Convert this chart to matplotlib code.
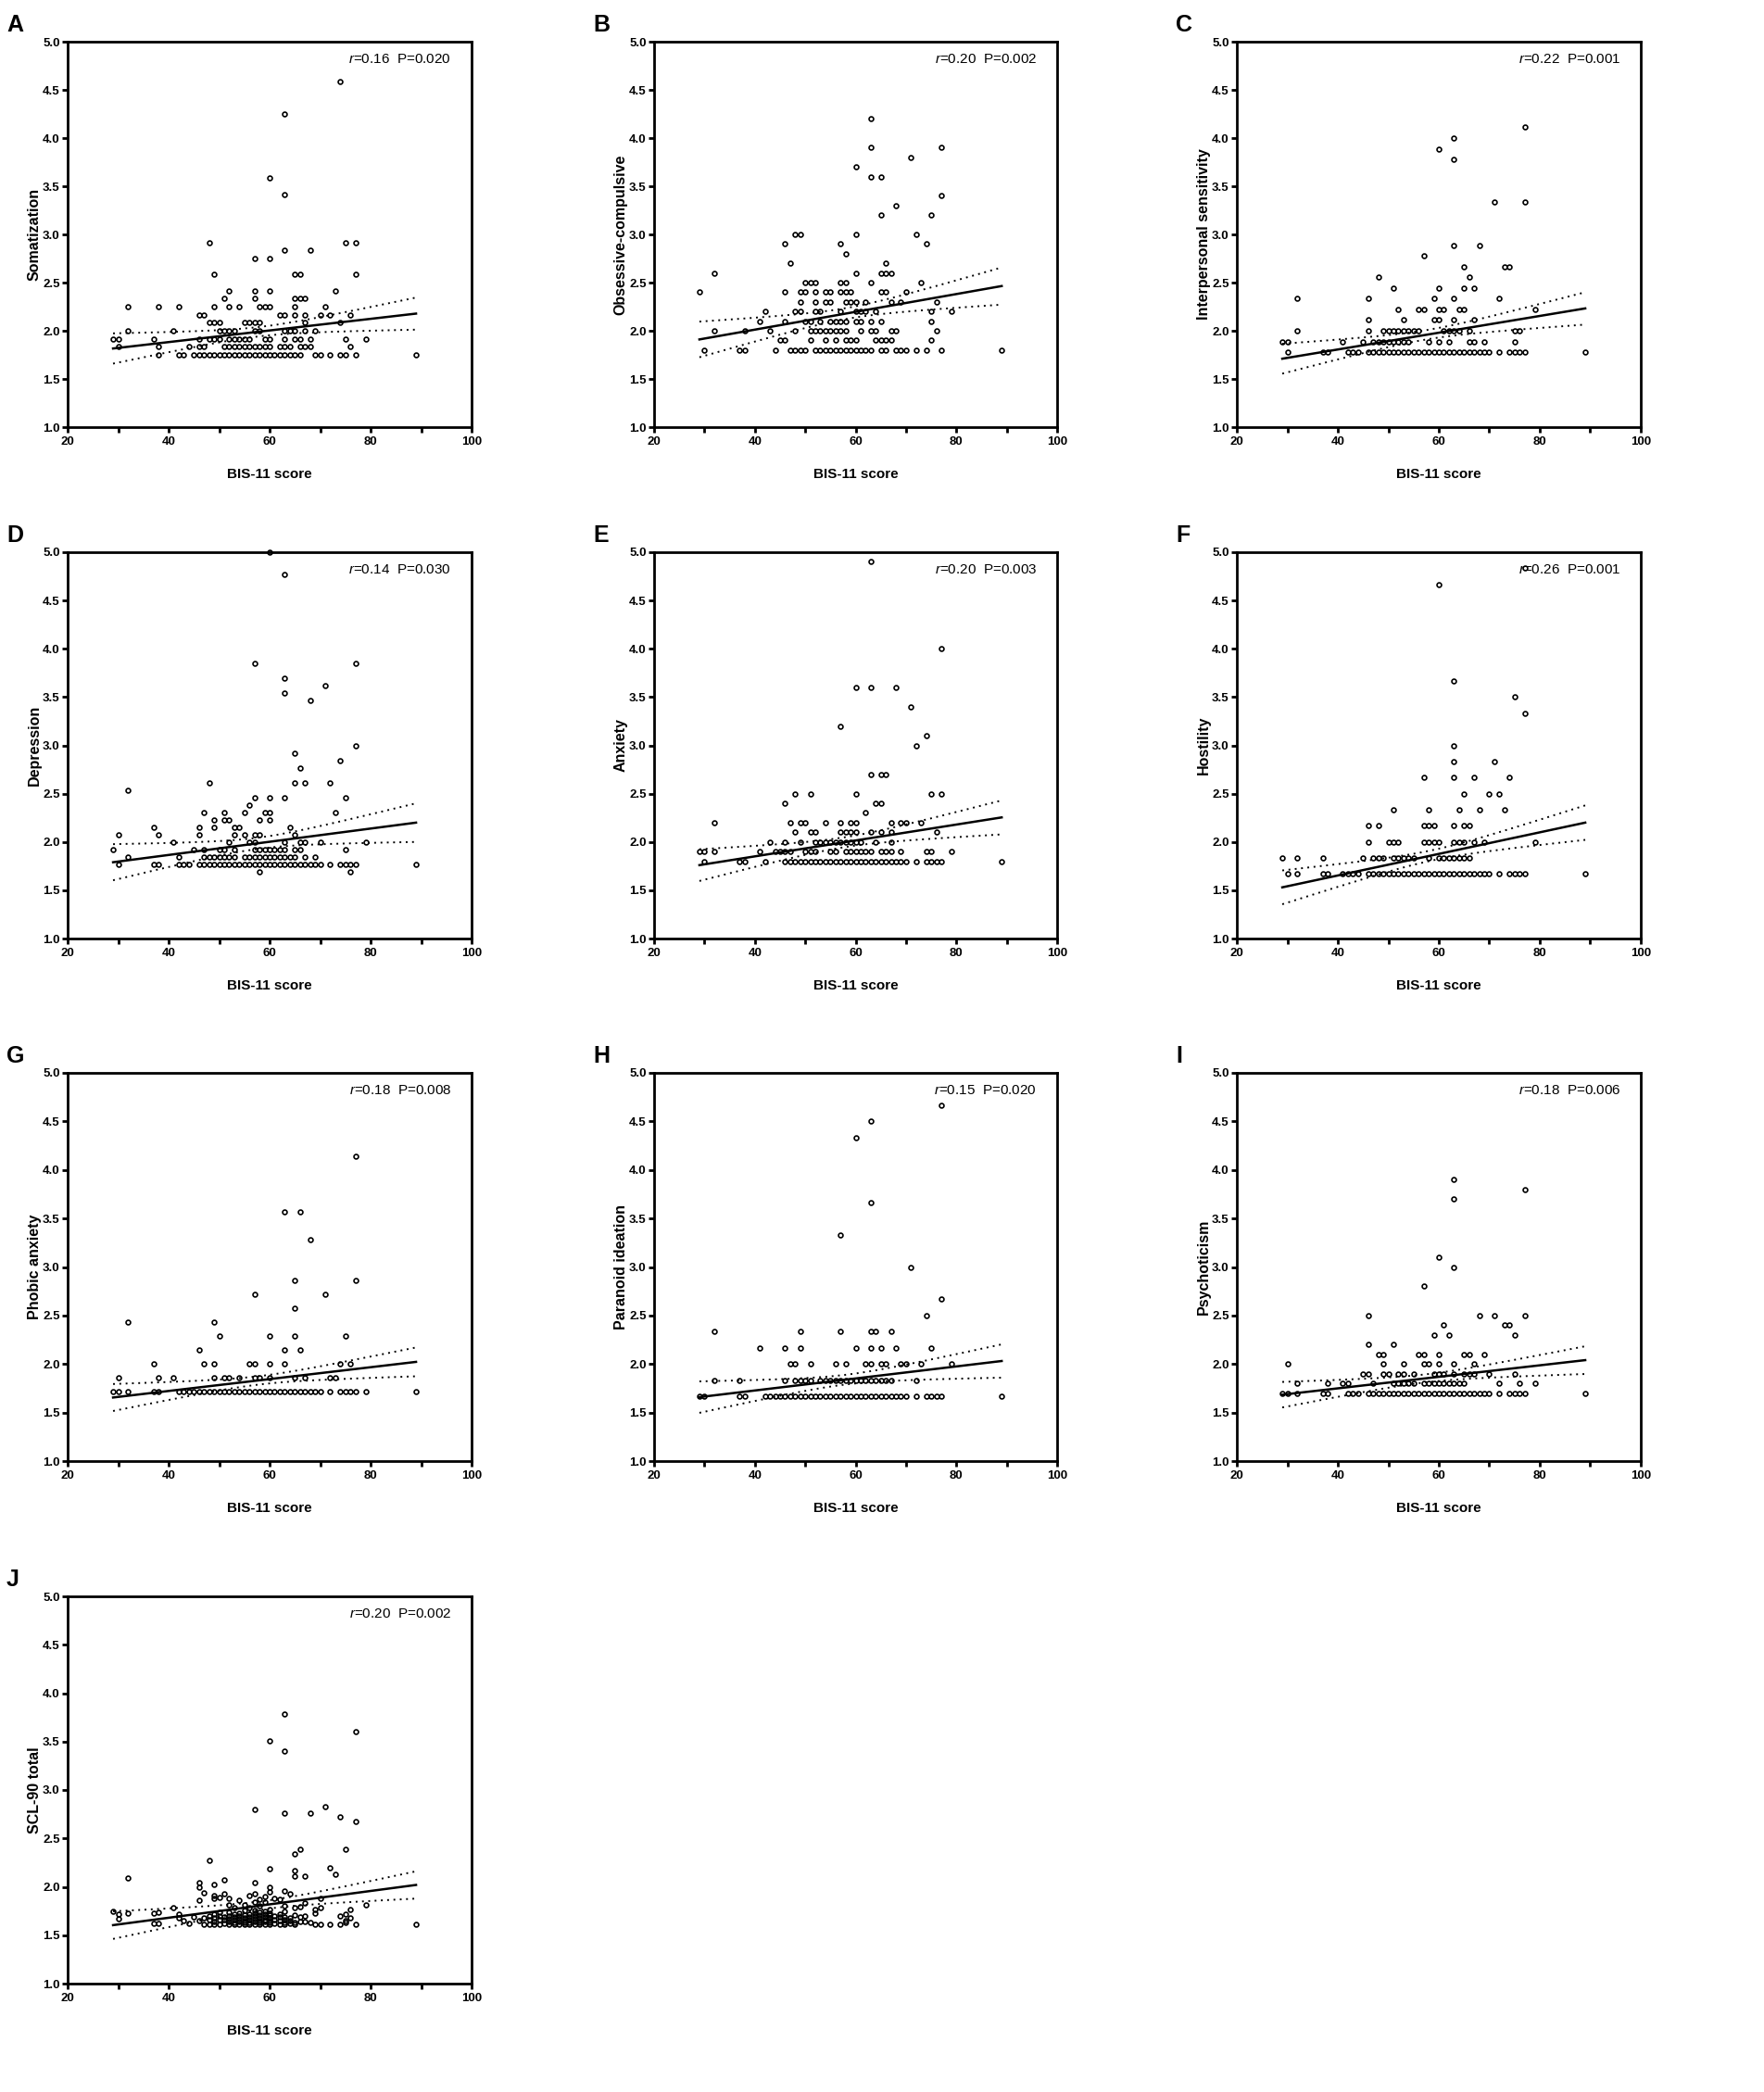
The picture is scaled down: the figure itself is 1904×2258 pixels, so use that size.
import numpy as np
import matplotlib
matplotlib.use("Agg")
import matplotlib.pyplot as plt
from matplotlib import font_manager
from matplotlib.ticker import MultipleLocator, FormatStrFormatter

# condensed Arial-like face if present, otherwise plain Liberation Sans
try:
    font_manager.findfont(font_manager.FontProperties(family='Liberation Sans Narrow'),
                          fallback_to_default=False)
    narrow = 'Liberation Sans Narrow'
except ValueError:
    narrow = 'Liberation Sans'
plt.rcParams['font.family'] = [narrow, 'DejaVu Sans']
plt.rcParams['mathtext.fontset'] = 'custom'
plt.rcParams['mathtext.it'] = narrow + ':italic'
plt.rcParams['mathtext.rm'] = narrow

# ---- data: (y level, [BIS-11 scores]) ----
som_rows = [
    (4.583, [74]), (4.25, [63]), (3.583, [60]), (3.417, [63]),
    (2.917, [48, 75, 77]), (2.833, [63, 68]), (2.75, [57, 60]),
    (2.583, [49, 65, 66, 77]), (2.417, [52, 57, 60, 73]),
    (2.333, [51, 57, 65, 66, 67]),
    (2.25, [32, 38, 42, 49, 52, 54, 58, 59, 60, 65, 71]),
    (2.167, [46, 47, 62, 63, 65, 67, 70, 72, 76]),
    (2.083, [48, 49, 50, 55, 56, 57, 58, 67, 74]),
    (2.0, [32, 41, 50, 51, 52, 53, 57, 58, 63, 64, 65, 67, 69]),
    (1.917, [29, 30, 37, 46, 48, 49, 50, 52, 53, 54, 55, 56, 59, 60, 63, 65, 66, 68, 75, 79]),
    (1.833, [30, 38, 44, 46, 47, 51, 52, 53, 54, 55, 56, 57, 58, 59, 60, 62, 63, 64, 66, 67, 68, 76]),
    (1.75, [38, 42, 43, 45, 46, 47, 48, 49, 50, 51, 52, 53, 54, 55, 56, 57, 58, 59, 60, 61,
            62, 63, 64, 65, 66, 69, 70, 72, 74, 75, 77, 89]),
]

oc_rows = [
    (4.2, [63]), (3.9, [63, 77]), (3.8, [71]), (3.7, [60]), (3.6, [63, 65]), (3.4, [77]),
    (3.3, [68]), (3.2, [65, 75]), (3.0, [48, 49, 60, 72]), (2.9, [46, 57, 74]), (2.8, [58]),
    (2.7, [47, 66]), (2.6, [32, 60, 65, 66, 67]), (2.5, [50, 51, 52, 57, 58, 63, 73]),
    (2.4, [29, 46, 49, 50, 52, 54, 55, 57, 58, 59, 65, 66, 70]),
    (2.3, [49, 52, 54, 55, 58, 59, 60, 62, 67, 69, 76]),
    (2.2, [42, 48, 49, 52, 53, 57, 60, 61, 62, 64, 75, 79]),
    (2.1, [41, 46, 50, 51, 53, 55, 56, 57, 58, 60, 61, 63, 65, 75]),
    (2.0, [32, 38, 43, 48, 51, 52, 53, 54, 55, 56, 57, 58, 61, 63, 64, 67, 68, 76]),
    (1.9, [45, 46, 51, 54, 56, 58, 59, 60, 64, 65, 66, 67, 75]),
    (1.8, [30, 37, 38, 44, 47, 48, 49, 50, 52, 53, 54, 55, 56, 57, 58, 59, 60, 61, 62, 63,
           65, 66, 68, 69, 70, 72, 74, 77, 89]),
]

ips_rows = [
    (4.111, [77]), (4.0, [63]), (3.889, [60]), (3.778, [63]), (3.333, [71, 77]),
    (2.889, [63, 68]), (2.778, [57]), (2.667, [65, 73, 74]), (2.556, [48, 66]),
    (2.444, [51, 60, 65, 67]), (2.333, [32, 46, 59, 63, 72]),
    (2.222, [52, 56, 57, 60, 61, 64, 65, 79]), (2.111, [46, 53, 59, 60, 63, 67]),
    (2.0, [32, 46, 49, 50, 51, 52, 53, 54, 55, 56, 61, 62, 63, 64, 66, 75, 76]),
    (1.889, [29, 30, 41, 45, 47, 48, 49, 50, 51, 52, 53, 54, 58, 60, 62, 66, 67, 69, 75]),
    (1.778, [30, 37, 38, 42, 43, 44, 46, 47, 48, 49, 50, 51, 52, 53, 54, 55, 56, 57, 58, 59,
             60, 61, 62, 63, 64, 65, 66, 67, 68, 69, 70, 72, 74, 75, 76, 77, 89]),
]

dep_rows = [
    (5.0, [60]), (4.769, [63]), (3.846, [57, 77]), (3.692, [63]), (3.615, [71]),
    (3.538, [63]), (3.462, [68]), (3.0, [77]), (2.923, [65]), (2.846, [74]), (2.769, [66]),
    (2.615, [48, 65, 67, 72]), (2.538, [32]), (2.462, [57, 60, 63, 75]), (2.385, [56]),
    (2.308, [47, 51, 55, 59, 60, 73]), (2.231, [49, 51, 52, 58, 60]),
    (2.154, [37, 46, 49, 53, 54, 64]), (2.077, [30, 38, 46, 53, 55, 57, 58, 65]),
    (2.0, [41, 52, 56, 57, 63, 66, 67, 70, 79]),
    (1.923, [29, 45, 47, 50, 51, 53, 57, 58, 59, 60, 61, 62, 63, 65, 66, 75]),
    (1.846, [32, 42, 47, 48, 49, 50, 51, 52, 53, 55, 56, 57, 58, 59, 60, 61, 62, 63, 64, 65, 67, 69]),
    (1.769, [30, 37, 38, 42, 43, 44, 46, 47, 48, 49, 50, 51, 52, 53, 54, 55, 56, 57, 58, 59,
             60, 61, 62, 63, 64, 65, 66, 67, 68, 69, 70, 72, 74, 75, 76, 77, 89]),
    (1.692, [58, 76]),
]

anx_rows = [
    (4.9, [63]), (4.0, [77]), (3.6, [60, 63, 68]), (3.4, [71]), (3.2, [57]), (3.1, [74]),
    (3.0, [72]), (2.7, [63, 65, 66]), (2.5, [48, 51, 60, 75, 77]), (2.4, [46, 64, 65]),
    (2.3, [62]), (2.2, [32, 47, 49, 50, 54, 57, 59, 60, 67, 69, 70, 73]),
    (2.1, [48, 51, 52, 57, 58, 59, 60, 63, 65, 67, 76]),
    (2.0, [43, 46, 49, 52, 53, 54, 55, 56, 57, 58, 59, 60, 61, 64, 67]),
    (1.9, [29, 30, 32, 41, 44, 45, 46, 47, 50, 51, 52, 55, 56, 58, 59, 60, 61, 62, 63, 65,
           66, 67, 69, 74, 75, 79]),
    (1.8, [30, 37, 38, 42, 46, 47, 48, 49, 50, 51, 52, 53, 54, 55, 56, 57, 58, 59, 60, 61,
           62, 63, 64, 65, 66, 67, 68, 69, 70, 72, 74, 75, 76, 77, 89]),
]

hos_rows = [
    (4.833, [77]), (4.667, [60]), (3.667, [63]), (3.5, [75]), (3.333, [77]), (3.0, [63]),
    (2.833, [63, 71]), (2.667, [57, 63, 67, 74]), (2.5, [65, 70, 72]),
    (2.333, [51, 58, 64, 68, 73]), (2.167, [46, 48, 57, 58, 59, 63, 65, 66]),
    (2.0, [46, 50, 51, 52, 57, 58, 59, 60, 63, 64, 65, 67, 69, 79]),
    (1.833, [29, 32, 37, 45, 47, 48, 49, 51, 52, 53, 54, 55, 58, 60, 61, 62, 63, 64, 65, 66]),
    (1.667, [30, 32, 37, 38, 41, 42, 43, 44, 46, 47, 48, 49, 50, 51, 52, 53, 54, 55, 56, 57,
             58, 59, 60, 61, 62, 63, 64, 65, 66, 67, 68, 69, 70, 72, 74, 75, 76, 77, 89]),
]

phob_rows = [
    (4.143, [77]), (3.571, [63, 66]), (3.286, [68]), (2.857, [65, 77]), (2.714, [57, 71]),
    (2.571, [65]), (2.429, [32, 49]), (2.286, [50, 60, 65, 75]), (2.143, [46, 63, 66]),
    (2.0, [37, 47, 49, 56, 57, 60, 63, 74, 76]),
    (1.857, [30, 38, 41, 49, 51, 52, 54, 57, 58, 60, 65, 67, 72, 73]),
    (1.714, [29, 30, 32, 37, 38, 42, 43, 44, 45, 46, 47, 48, 49, 50, 51, 52, 53, 54, 55, 56,
             57, 58, 59, 60, 61, 62, 63, 64, 65, 66, 67, 68, 69, 70, 72, 74, 75, 76, 77, 79, 89]),
]

par_rows = [
    (4.667, [77]), (4.5, [63]), (4.333, [60]), (3.667, [63]), (3.333, [57]), (3.0, [71]),
    (2.667, [77]), (2.5, [74]), (2.333, [32, 49, 57, 63, 64, 67]),
    (2.167, [41, 46, 49, 60, 63, 65, 68, 75]),
    (2.0, [47, 48, 51, 56, 58, 62, 63, 65, 66, 69, 70, 73, 79]),
    (1.833, [32, 37, 46, 48, 49, 50, 51, 53, 54, 55, 56, 57, 58, 59, 60, 61, 62, 63, 64, 65,
             66, 67, 72]),
    (1.667, [29, 30, 37, 38, 42, 43, 44, 45, 46, 47, 48, 49, 50, 51, 52, 53, 54, 55, 56, 57,
             58, 59, 60, 61, 62, 63, 64, 65, 66, 67, 68, 69, 70, 72, 74, 75, 76, 77, 89]),
]

psy_rows = [
    (3.9, [63]), (3.8, [77]), (3.7, [63]), (3.1, [60]), (3.0, [63]), (2.8, [57]),
    (2.5, [46, 68, 71, 77]), (2.4, [61, 73, 74]), (2.3, [59, 62, 75]), (2.2, [46, 51]),
    (2.1, [48, 49, 56, 57, 60, 65, 66, 69]), (2.0, [30, 49, 53, 57, 58, 60, 63, 67]),
    (1.9, [45, 46, 49, 50, 52, 53, 55, 59, 60, 61, 63, 65, 66, 67, 70, 75]),
    (1.8, [32, 38, 41, 42, 47, 51, 52, 53, 54, 55, 57, 58, 59, 60, 61, 62, 63, 64, 65, 72, 76, 79]),
    (1.7, [29, 30, 32, 37, 38, 42, 43, 44, 46, 47, 48, 49, 50, 51, 52, 53, 54, 55, 56, 57,
           58, 59, 60, 61, 62, 63, 64, 65, 66, 67, 68, 69, 70, 72, 74, 75, 76, 77, 89]),
]

# SCL-90 total is continuous, so plain (x, y) pairs
scl_pts = [
    (63, 3.78), (77, 3.60), (60, 3.51), (63, 3.40), (57, 2.80), (71, 2.83), (63, 2.76),
    (68, 2.76), (74, 2.72), (77, 2.67), (66, 2.39), (75, 2.39), (65, 2.34), (48, 2.27),
    (72, 2.20), (60, 2.19), (73, 2.13), (65, 2.17), (65, 2.11), (67, 2.11), (32, 2.09),
    (51, 2.07), (46, 2.04), (46, 2.00), (57, 2.04), (49, 2.02), (60, 2.00), (60, 1.95),
    (47, 1.94), (51, 1.93), (57, 1.93), (63, 1.96), (64, 1.93), (49, 1.91), (49, 1.885),
    (50, 1.89), (56, 1.91), (59, 1.90), (70, 1.885), (52, 1.88), (61, 1.88), (62, 1.87),
    (46, 1.86), (54, 1.86), (58, 1.87), (59, 1.845), (79, 1.815), (57, 1.84), (67, 1.83),
    (52, 1.815), (55, 1.815), (63, 1.805), (41, 1.78), (60, 1.77), (70, 1.78), (69, 1.765),
    (65, 1.78), (66, 1.79), (29, 1.75), (30, 1.715), (30, 1.67), (32, 1.73), (37, 1.73),
    (38, 1.74), (37, 1.62), (38, 1.62), (76, 1.765), (75, 1.715), (74, 1.70), (42, 1.72),
    (42, 1.68), (43, 1.65), (44, 1.62), (45, 1.69), (46, 1.655), (47, 1.68), (47, 1.61),
    (76, 1.68), (75, 1.65), (75, 1.63), (69, 1.725), (69, 1.61), (70, 1.61), (72, 1.61),
    (74, 1.61), (77, 1.61), (89, 1.61), (68, 1.63), (67, 1.645), (67, 1.70), (66, 1.69),
    (66, 1.645), (65, 1.71), (65, 1.63), (65, 1.61),
    (48, 1.61), (48, 1.66), (48, 1.70), (49, 1.61), (49, 1.64), (49, 1.68), (49, 1.72),
    (50, 1.61), (50, 1.66), (50, 1.70), (50, 1.74), (51, 1.62), (51, 1.66), (51, 1.69),
    (52, 1.61), (52, 1.64), (52, 1.67), (52, 1.70), (52, 1.74), (53, 1.61), (53, 1.63),
    (53, 1.66), (53, 1.69), (53, 1.72), (53, 1.78), (54, 1.61), (54, 1.64), (54, 1.67),
    (54, 1.70), (54, 1.73), (55, 1.61), (55, 1.63), (55, 1.65), (55, 1.68), (55, 1.71),
    (55, 1.76), (56, 1.61), (56, 1.63), (56, 1.66), (56, 1.69), (56, 1.72), (56, 1.78),
    (57, 1.61), (57, 1.64), (57, 1.67), (57, 1.70), (57, 1.73), (57, 1.76), (58, 1.61),
    (58, 1.63), (58, 1.65), (58, 1.68), (58, 1.71), (58, 1.74), (58, 1.80), (59, 1.61),
    (59, 1.64), (59, 1.66), (59, 1.69), (59, 1.72), (59, 1.75), (60, 1.61), (60, 1.63),
    (60, 1.65), (60, 1.68), (60, 1.71), (60, 1.73), (61, 1.62), (61, 1.66), (61, 1.70),
    (62, 1.61), (62, 1.65), (62, 1.69), (62, 1.72), (63, 1.61), (63, 1.63), (63, 1.66),
    (63, 1.69), (63, 1.75), (64, 1.62), (64, 1.65), (64, 1.68),
]

letters = ['A', 'B', 'C', 'D', 'E', 'F', 'G', 'H', 'I', 'J']
ylabels = ['Somatization', 'Obsessive-compulsive', 'Interpersonal sensitivity', 'Depression',
           'Anxiety', 'Hostility', 'Phobic anxiety', 'Paranoid ideation', 'Psychoticism',
           'SCL-90 total']
r_vals = ['0.16', '0.20', '0.22', '0.14', '0.20', '0.26', '0.18', '0.15', '0.18', '0.20']
p_vals = ['0.020', '0.002', '0.001', '0.030', '0.003', '0.001', '0.008', '0.020', '0.006', '0.002']

# regression line and 95% CI read at BIS-11 = 29 and 89: (at 29, at 89)
fit_ends = [(1.816, 2.178), (1.91, 2.464), (1.71, 2.232), (1.79, 2.20), (1.76, 2.254),
            (1.53, 2.20), (1.655, 2.022), (1.659, 2.031), (1.684, 2.04), (1.604, 2.019)]
ci_upper = [(1.97, 2.344), (2.094, 2.657), (1.87, 2.392), (1.974, 2.40), (1.928, 2.424),
            (1.706, 2.375), (1.789, 2.166), (1.808, 2.193), (1.81, 2.176), (1.748, 2.157)]
ci_lower = [(1.656, 2.011), (1.724, 2.271), (1.56, 2.056), (1.60, 2.0), (1.60, 2.072),
            (1.356, 2.018), (1.511, 1.869), (1.484, 1.85), (1.547, 1.89), (1.463, 1.875)]


def expand(rows):
    xs, ys = [], []
    for y, xl in rows:
        xs += xl
        ys += [y] * len(xl)
    return xs, ys


points = [expand(r) for r in [som_rows, oc_rows, ips_rows, dep_rows, anx_rows, hos_rows,
                               phob_rows, par_rows, psy_rows]]
points.append(([p[0] for p in scl_pts], [p[1] for p in scl_pts]))

# axes boxes in pixels: left, top, right, bottom
cols = [(73, 509), (706, 1141), (1335, 1771)]
rows_px = [(45, 461), (596, 1013), (1158, 1577), (1723, 2141)]

W, H = 1904, 2258
fig = plt.figure(figsize=(W / 100, H / 100), dpi=100)

x0, x1 = 29, 89
for i in range(10):
    l, r = cols[i % 3]
    t, b = rows_px[i // 3]
    ax = fig.add_axes([l / W, 1 - b / H, (r - l) / W, (b - t) / H])
    xs, ys = points[i]
    ax.plot(xs, ys, 'o', ms=3.5, mfc='none', mec='black', mew=1.2, clip_on=False, zorder=3)

    xx = np.linspace(x0, x1, 200)
    f0, f1 = fit_ends[i]
    fit = f0 + (f1 - f0) * (xx - x0) / (x1 - x0)
    h1 = (ci_upper[i][0] - ci_lower[i][0]) / 2
    h2 = (ci_upper[i][1] - ci_lower[i][1]) / 2
    h0 = 0.3 * (h1 + h2) / 2
    ratio = np.sqrt((h1 ** 2 - h0 ** 2) / (h2 ** 2 - h0 ** 2))
    xm = (x0 + x1 * ratio) / (1 + ratio)
    c2 = (h1 ** 2 - h0 ** 2) / (xm - x0) ** 2
    hw = np.sqrt(h0 ** 2 + c2 * (xx - xm) ** 2)
    ax.plot(xx, fit, color='black', lw=1.8, zorder=4)
    ax.plot(xx, fit + hw, color='black', lw=1.4, ls=(0, (1, 2.5)), zorder=4)
    ax.plot(xx, fit - hw, color='black', lw=1.4, ls=(0, (1, 2.5)), zorder=4)

    ax.set_xlim(20, 100)
    ax.set_ylim(1.0, 5.0)
    ax.xaxis.set_major_locator(MultipleLocator(20))
    ax.xaxis.set_minor_locator(MultipleLocator(10))
    ax.yaxis.set_major_locator(MultipleLocator(0.5))
    ax.yaxis.set_major_formatter(FormatStrFormatter('%.1f'))
    for s in ax.spines.values():
        s.set_linewidth(2.0)
    ax.tick_params(which='both', direction='out', length=4, width=2.0, pad=2)
    ax.tick_params(axis='y', labelsize=9.5)
    ax.tick_params(axis='x', labelsize=9.5, pad=3)
    for lab in ax.get_xticklabels() + ax.get_yticklabels():
        lab.set_fontweight('bold')
    ax.set_xlabel('BIS-11 score', fontsize=11, fontweight='bold', labelpad=16)
    ax.set_ylabel(ylabels[i], fontsize=11.5, fontweight='bold', labelpad=1,
                  family=['Liberation Sans', 'DejaVu Sans'])
    ax.text(0.95, 0.955, r'$r$=' + r_vals[i] + '  P=' + p_vals[i], transform=ax.transAxes,
            ha='right', va='center', fontsize=11)
    fig.text((l - 66) / W, 1 - (t - 30) / H, letters[i], ha='left', va='top', fontsize=18,
             fontweight='bold', family=['Liberation Sans', 'DejaVu Sans'])

fig.savefig('out.png', dpi=100)
